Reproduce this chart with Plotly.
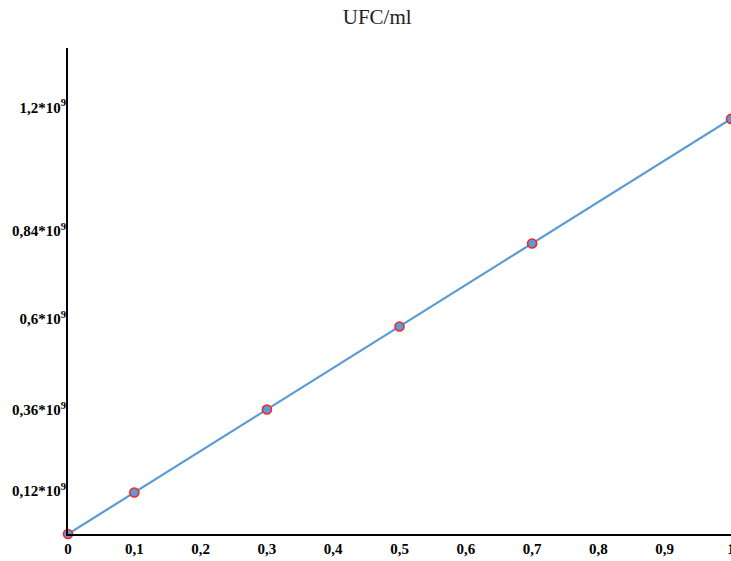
import plotly.graph_objects as go

x_vals = [0, 0.1, 0.3, 0.5, 0.7, 1.0]
y_vals = [0, 0.12e9, 0.36e9, 0.6e9, 0.84e9, 1.2e9]

x_ticks = [0, 0.1, 0.2, 0.3, 0.4, 0.5, 0.6, 0.7, 0.8, 0.9, 1.0]
x_ticktext = ["0", "0,1", "0,2", "0,3", "0,4", "0,5", "0,6", "0,7", "0,8", "0,9", "1"]
# label positions as they appear on the reference axis
y_ticks = [0.124e9, 0.359e9, 0.622e9, 0.876e9, 1.233e9]
y_ticktext = ["0,12*10<sup>9</sup>", "0,36*10<sup>9</sup>", "0,6*10<sup>9</sup>",
              "0,84*10<sup>9</sup>", "1,2*10<sup>9</sup>"]

fig = go.Figure()
fig.add_trace(go.Scatter(
    x=x_vals, y=y_vals, mode="lines+markers",
    line=dict(color="#5B9BD5", width=2.2),
    marker=dict(size=9, color="#5B9BD5", line=dict(color="#FF2020", width=1.6)),
    cliponaxis=False, showlegend=False, hoverinfo="skip",
))

serif = "Liberation Serif, Times New Roman, serif"
fig.update_layout(
    width=731, height=561,
    margin=dict(l=68, r=0, t=48, b=27, autoexpand=False),
    paper_bgcolor="white", plot_bgcolor="white",
    title=dict(text="UFC/ml", x=0.516, xref="container", xanchor="center",
               y=0.983, yanchor="top",
               font=dict(family=serif, size=21, color="#222")),
    font=dict(family=serif, color="black"),
    xaxis=dict(range=[0, 1], tickvals=x_ticks, ticktext=[f"<b>{t}</b>" for t in x_ticktext],
               automargin=False, ticklabeloverflow="allow",
               showgrid=False, zeroline=False, showline=True, linecolor="black", linewidth=2,
               ticks="", tickfont=dict(family=serif, size=15, color="black")),
    yaxis=dict(range=[0, 1.405e9], tickvals=y_ticks, ticktext=[f"<b>{t}</b>" for t in y_ticktext],
               automargin=False, ticklabeloverflow="allow",
               showgrid=False, zeroline=False, showline=True, linecolor="black", linewidth=2,
               ticks="", ticklen=0, ticklabelstandoff=-3,
               tickfont=dict(family=serif, size=15, color="black")),
)

fig.write_html("out.html", config={"displayModeBar": False},
               post_script="document.body.style.margin='0';document.body.style.overflow='hidden';")
